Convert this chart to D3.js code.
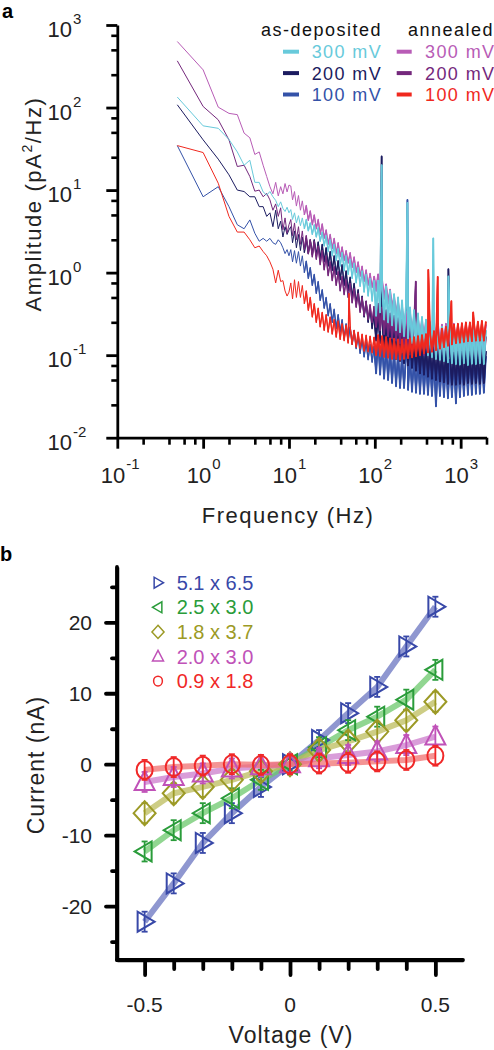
<!DOCTYPE html>
<html><head><meta charset="utf-8">
<script src="https://cdn.jsdelivr.net/npm/d3@7"></script>
<style>
body{margin:0;background:#fff;}
svg{display:block;font-family:"Liberation Sans",Arial,Helvetica,sans-serif;}
</style></head><body>
<svg id="chart" width="494" height="1050"></svg>
<script>
// ---------------- Panel a data ----------------
const freqLow = [0.5,1,1.5,2,2.5,3,3.5,4,4.5,5,5.5,6,6.5,7,7.5,8,8.5,9,9.5,10];
const freqMid = [10.5,11,11.6,12.2,12.9,13.6,14.3,15.1,15.9,16.8,17.7,18.7,19.7,20.8,21.9,23.1,24.4,25.7,27.1,28.6,30.2,31.9,33.6,35.5,37.4,39.5,41.6,43.9,46.3,48.9,51.6,54.4,57.4,60.6,63.9,67.4,71.1,75,79.2,83.5,88.1,93,98.1];
const freqHigh = [103.5,109.2,115.2,121.5,128.2,135.3,142.7,150.6,158.8,167.6,176.8,186.5,196.8,207.6,219,231,243.7,257.1,271.3,286.2,301.9,318.5,336,354.5,374,394.6,416.3,439.2,463.3,488.8,515.7,544.1,574,605.6,638.9,674,711.1,750.2,791.5,835,881,929.4,980.5,1034,1091,1151,1215,1281,1352,1426,1505,1587,1675,1767,1864,1967];

const ampDep300 = [134,60,56,41,29,20,23,12.4,12.4,9.5,8.7,9.6,8.3,7.5,6.3,7.2,6.0,5.5,6.2,5.3,
 5.8,4.4,5.3,4.0,4.9,3.7,4.6,3.4,4.4,3.2,4.0,2.9,3.8,2.7,3.5,2.4,3.1,2.1,2.8,1.8,2.5,1.6,2.2,1.4,1.95,1.2,1.75,1.05,1.6,0.95,1.45,0.85,1.3,0.75,1.15,0.68,1.05,0.58,0.95,0.52,0.85,0.45,0.8,
 0.3,0.8,0.33,0.72,0.27,0.68,0.25,0.6,0.23,0.55,0.2,0.5,0.19,0.46,0.17,0.42,0.16,0.38,0.14,0.35,0.13,0.32,0.12,0.29,0.11,0.27,0.1,0.25,0.095,0.24,0.09,0.23,0.088,0.22,0.085,0.215,0.082,0.21,0.08,0.2,0.078,0.21,0.077,0.2,0.08,0.2,0.076,0.21,0.079,0.2,0.078,0.205,0.08,0.21,0.078,0.2];
const ampDep200 = [108,40.6,23.7,15.3,10,9.6,8.3,8.3,6.3,6.3,4.8,5.3,3.6,5.7,3.4,4.2,2.7,3.6,2.9,3.3,
 3.6,2.3,3.2,2.0,2.9,1.85,2.7,1.75,2.6,1.7,2.5,1.65,2.5,1.6,2.35,1.45,2.2,1.35,2.0,1.2,1.8,1.06,1.6,0.95,1.4,0.82,1.25,0.7,1.05,0.6,0.88,0.5,0.74,0.42,0.62,0.35,0.52,0.29,0.45,0.25,0.37,0.21,0.32,
 0.15,0.34,0.14,0.3,0.12,0.27,0.11,0.24,0.1,0.22,0.09,0.21,0.085,0.2,0.08,0.18,0.075,0.17,0.07,0.15,0.065,0.145,0.06,0.14,0.058,0.135,0.055,0.13,0.052,0.125,0.05,0.12,0.048,0.115,0.047,0.112,0.045,0.11,0.044,0.108,0.044,0.11,0.045,0.11,0.044,0.112,0.046,0.11,0.045,0.113,0.046,0.112,0.045,0.115,0.046,0.112];
const ampDep100 = [34.6,8.3,11,6.3,3.8,3.4,4.35,3.0,2.4,2.6,2.4,2.6,2.3,2.2,2.5,2.3,2.0,1.7,1.9,1.6,
 1.9,1.35,1.85,1.3,1.8,1.2,1.6,1.0,1.38,0.85,1.15,0.7,0.95,0.56,0.78,0.46,0.62,0.37,0.5,0.3,0.42,0.25,0.36,0.21,0.31,0.19,0.27,0.16,0.24,0.15,0.22,0.135,0.2,0.12,0.175,0.105,0.16,0.095,0.145,0.088,0.135,0.082,0.128,
 0.06,0.16,0.058,0.145,0.052,0.13,0.05,0.12,0.046,0.115,0.042,0.11,0.04,0.105,0.04,0.1,0.038,0.098,0.036,0.095,0.035,0.093,0.034,0.092,0.034,0.09,0.033,0.09,0.032,0.088,0.024,0.089,0.032,0.088,0.031,0.087,0.03,0.088,0.031,0.087,0.026,0.088,0.031,0.09,0.032,0.092,0.033,0.093,0.033,0.095,0.034,0.096,0.034,0.097,0.035,0.097];
const ampAnn300 = [631,286,101,85,82,49,43,27,29,20,14.6,11,9,12.4,8.5,11,9,12,9.5,11.5,
 11.2,7.6,9.6,6.4,8.6,5.7,7.4,5.0,6.5,4.3,5.6,3.8,5.0,3.4,4.4,2.9,3.9,2.6,3.3,2.2,2.9,1.95,2.6,1.7,2.3,1.55,2.05,1.4,1.85,1.3,1.75,1.15,1.55,1.0,1.35,0.9,1.2,0.78,1.08,0.7,0.98,0.66,0.9,
 0.6,0.95,0.55,0.82,0.48,0.72,0.42,0.62,0.36,0.52,0.3,0.45,0.26,0.38,0.22,0.34,0.2,0.32,0.19,0.29,0.17,0.28,0.16,0.27,0.15,0.26,0.145,0.25,0.14,0.25,0.135,0.24,0.13,0.235,0.13,0.24,0.125,0.23,0.13,0.24,0.125,0.235,0.13,0.23,0.125,0.24,0.13,0.235,0.125,0.24,0.13,0.23,0.125,0.24,0.13,0.235];
const ampAnn200 = [368,103,71,40.6,19.3,20,14.6,9.7,10,8.3,9.1,7.6,5.7,6.8,4.8,6.1,3.3,4.6,3.0,3.8,
 4.4,2.8,4.0,2.5,3.6,2.2,3.2,1.9,2.8,1.7,2.5,1.55,2.4,1.45,2.1,1.25,1.85,1.08,1.6,0.92,1.35,0.8,1.18,0.7,1.03,0.6,0.9,0.54,0.82,0.5,0.74,0.43,0.64,0.38,0.56,0.33,0.5,0.3,0.45,0.27,0.41,0.25,0.39,
 0.22,0.42,0.2,0.38,0.18,0.35,0.17,0.32,0.16,0.3,0.15,0.28,0.14,0.27,0.13,0.25,0.12,0.23,0.115,0.22,0.11,0.21,0.105,0.2,0.1,0.2,0.1,0.195,0.098,0.19,0.095,0.19,0.095,0.185,0.092,0.185,0.092,0.18,0.09,0.18,0.09,0.175,0.09,0.175,0.088,0.175,0.088,0.17,0.087,0.17,0.087,0.17,0.086,0.17,0.086,0.168];
const ampAnn100 = [34.6,28.5,12.1,4.8,3.1,3.1,2.5,2.0,2.1,1.8,1.6,1.35,1.1,0.75,1.07,0.78,0.8,0.6,0.52,0.58,
 0.75,0.48,0.82,0.5,0.78,0.5,0.7,0.42,0.6,0.35,0.5,0.29,0.42,0.25,0.37,0.22,0.33,0.2,0.31,0.19,0.29,0.18,0.27,0.165,0.26,0.155,0.24,0.15,0.23,0.14,0.22,0.135,0.2,0.125,0.19,0.12,0.18,0.112,0.175,0.11,0.17,0.107,0.165,
 0.1,0.175,0.098,0.17,0.095,0.165,0.093,0.16,0.09,0.158,0.09,0.155,0.088,0.155,0.09,0.155,0.092,0.16,0.094,0.165,0.097,0.17,0.1,0.175,0.105,0.18,0.108,0.19,0.11,0.195,0.115,0.2,0.12,0.21,0.125,0.22,0.13,0.23,0.135,0.235,0.14,0.24,0.142,0.245,0.145,0.25,0.148,0.25,0.148,0.255,0.15,0.255,0.15,0.26,0.15,0.255];

// line-frequency spikes [Hz, pA^2/Hz]
const spikesDep300 = [[120,20],[240,7.0],[480,2.6],[720,0.9]];
const spikesDep200 = [[120,25.5],[720,1.1]];
const spikesDep100 = [[240,7.6]];
const spikesAnn300 = [];
const spikesAnn200 = [[300,0.78]];
const spikesAnn100 = [[50,0.56],[420,1.08],[540,0.89],[780,0.45],[1400,0.33]];

const yTickExp = [-2,-1,0,1,2,3];
const xTickExp = [-1,0,1,2,3];
const legendVolts = ["300 mV","200 mV","100 mV"];

// ---------------- Panel b data ----------------
const voltages = [-0.5,-0.4,-0.3,-0.2,-0.1,0,0.1,0.2,0.3,0.4,0.5];
const cur51x65 = [-22.2,-16.8,-11.1,-6.9,-3.2,0,3.4,7.2,10.9,16.6,22.2];
const cur25x30 = [-12.3,-9.3,-6.9,-4.8,-2.2,0,2.4,4.8,6.7,9.1,13.3];
const cur18x37 = [-6.9,-4.1,-3.2,-2.2,-1.0,0,2.0,3.2,4.6,6.2,8.8];
const cur20x30 = [-2.5,-1.8,-1.3,-0.6,-0.3,0,0.85,1.3,1.8,2.7,3.9];
const cur09x18 = [-0.8,-0.4,-0.2,0,-0.1,0,0.1,0.2,0.4,0.6,1.2];
const sizeLabels = ["5.1 x 6.5","2.5 x 3.0","1.8 x 3.7","2.0 x 3.0","0.9 x 1.8"];
const currentTicks = [-20,-10,0,10,20];
const currentMinor = [-25,-15,-5,5,15,25];
const voltTicks = [-0.5,0,0.5];
const voltMinor = [-0.4,-0.3,-0.2,-0.1,0.1,0.2,0.3,0.4];

// ---------------- Drawing ----------------
const svg = d3.select("#chart");
const freqs = freqLow.concat(freqMid, freqHigh);

// Panel a
const xA = d3.scaleLog().domain([0.1, 2000]).range([117.3, 486.5]);
const yA = d3.scaleLog().domain([0.01, 1000]).range([437.7, 25]);

const seriesA = [
  {amp: ampDep100, spikes: spikesDep100, color: "#3452a8"},
  {amp: ampDep200, spikes: spikesDep200, color: "#1c1c60"},
  {amp: ampAnn200, spikes: spikesAnn200, color: "#74287c"},
  {amp: ampAnn300, spikes: spikesAnn300, color: "#b85cb6"},
  {amp: ampDep300, spikes: spikesDep300, color: "#68cadb"},
  {amp: ampAnn100, spikes: spikesAnn100, color: "#f0281e"}
];
const lineA = d3.line().x(d => xA(d[0])).y(d => yA(d[1]));
const gA = svg.append("g");
seriesA.forEach(s => {
  const pts = freqs.map((f, i) => [f, s.amp[i]]).concat(s.spikes).sort((a, b) => a[0] - b[0]);
  gA.append("path").attr("d", lineA(pts)).attr("fill", "none")
    .attr("stroke", s.color).attr("stroke-width", 1).attr("stroke-linejoin", "round");
  // denser-looking noise band: slightly heavier stroke for the dense part of the spectrum
  gA.append("path").attr("d", lineA(pts.filter(p => p[0] >= 15))).attr("fill", "none")
    .attr("stroke", s.color).attr("stroke-width", 1.3).attr("stroke-linejoin", "round");
  gA.append("path").attr("d", lineA(pts.filter(p => p[0] >= 98))).attr("fill", "none")
    .attr("stroke", s.color).attr("stroke-width", 1.8).attr("stroke-linejoin", "round");
});

// axes panel a
const yMajorA = yTickExp.map(e => Math.pow(10, e));
const yMinorA = [];
yTickExp.slice(0, -1).forEach(e => [2.5, 5, 7.5].forEach(m => yMinorA.push(m * Math.pow(10, e))));
const xMajorA = xTickExp.map(e => Math.pow(10, e));
const xMinorA = [];
xTickExp.forEach(e => [2, 4, 6, 8].forEach(m => { const v = m * Math.pow(10, e); if (v <= 2000) xMinorA.push(v); }));

function styleAxis(g, w) {
  g.selectAll("path.domain").attr("stroke", "#000").attr("stroke-width", w);
  g.selectAll(".tick line").attr("stroke", "#000").attr("stroke-width", w);
  g.selectAll(".tick text").remove();
}
const axYA = svg.append("g").attr("transform", "translate(117.3,0)")
  .call(d3.axisLeft(yA).tickValues(yMajorA).tickSize(11).tickSizeOuter(0).tickFormat(""));
styleAxis(axYA, 2.8);
svg.append("g").attr("transform", "translate(117.3,0)")
  .call(d3.axisLeft(yA).tickValues(yMinorA).tickSize(6).tickSizeOuter(0).tickFormat(""))
  .call(g => { g.select("path.domain").remove(); styleAxis(g, 2.6); });
const axXA = svg.append("g").attr("transform", "translate(0,437.7)")
  .call(d3.axisBottom(xA).tickValues(xMajorA).tickSize(11).tickSizeOuter(0).tickFormat(""));
styleAxis(axXA, 2.8);
svg.append("g").attr("transform", "translate(0,437.7)")
  .call(d3.axisBottom(xA).tickValues(xMinorA).tickSize(7).tickSizeOuter(0).tickFormat(""))
  .call(g => { g.select("path.domain").remove(); styleAxis(g, 2.6); });

// tick labels panel a
yTickExp.forEach(e => {
  const y = yA(Math.pow(10, e));
  svg.append("text").attr("x", 72).attr("y", y + 12).attr("text-anchor", "end")
    .attr("font-size", 22).attr("fill", "#222").text("10");
  svg.append("text").attr("x", 73).attr("y", y - 1).attr("font-size", 15).attr("fill", "#222").text(String(e));
});
xTickExp.forEach(e => {
  const x = xA(Math.pow(10, e));
  svg.append("text").attr("x", x + 8).attr("y", 483).attr("text-anchor", "end")
    .attr("font-size", 22).attr("fill", "#222").text("10");
  svg.append("text").attr("x", x + 9).attr("y", 469).attr("font-size", 15).attr("fill", "#222").text(String(e));
});

// axis titles panel a
const ttlA = svg.append("text").attr("transform", "translate(41,204) rotate(-90)")
  .attr("text-anchor", "middle").attr("font-size", 22).attr("letter-spacing", 1.6).attr("fill", "#222");
ttlA.append("tspan").text("Amplitude (pA");
ttlA.append("tspan").attr("dy", -9).attr("font-size", 14).text("2");
ttlA.append("tspan").attr("dy", 9).text("/Hz)");
svg.append("text").attr("x", 288).attr("y", 523).attr("text-anchor", "middle")
  .attr("font-size", 22).attr("letter-spacing", 1.5).attr("fill", "#222").text("Frequency (Hz)");

// legend panel a
svg.append("text").attr("x", 261).attr("y", 36).attr("font-size", 18).attr("letter-spacing", 1.5).attr("fill", "#111").text("as-deposited");
svg.append("text").attr("x", 408).attr("y", 36).attr("font-size", 18).attr("letter-spacing", 1.5).attr("fill", "#111").text("annealed");
const legDep = [seriesA[4].color, seriesA[1].color, seriesA[0].color];
const legAnn = [seriesA[3].color, seriesA[2].color, seriesA[5].color];
legendVolts.forEach((lab, i) => {
  const yb = 58.3 + i * 21.4;
  svg.append("line").attr("x1", 283).attr("x2", 299).attr("y1", yb - 6.6).attr("y2", yb - 6.6)
    .attr("stroke", legDep[i]).attr("stroke-width", 4);
  svg.append("text").attr("x", 311.7).attr("y", yb).attr("font-size", 18).attr("letter-spacing", 1.4)
    .attr("fill", legDep[i]).text(lab);
  svg.append("line").attr("x1", 396.7).attr("x2", 411.7).attr("y1", yb - 6.6).attr("y2", yb - 6.6)
    .attr("stroke", legAnn[i]).attr("stroke-width", 4);
  svg.append("text").attr("x", 425).attr("y", yb).attr("font-size", 18).attr("letter-spacing", 1.4)
    .attr("fill", legAnn[i]).text(lab);
});

svg.append("text").attr("x", 2).attr("y", 18).attr("font-size", 20).attr("font-weight", "bold").text("a");
svg.append("text").attr("x", 0).attr("y", 561).attr("font-size", 20).attr("font-weight", "bold").text("b");

// Panel b
const xB = d3.scaleLinear().domain([-0.595, 0.595]).range([117, 463]);
const yB = d3.scaleLinear().domain([-27.6, 27.8]).range([960, 567]);

const seriesB = [
  {cur: cur51x65, color: "#3848a8", line: "#6a74c0", shape: "right"},
  {cur: cur25x30, color: "#2a9c3a", line: "#6cc86c", shape: "left"},
  {cur: cur18x37, color: "#9c9a26", line: "#bcbc5c", shape: "diamond"},
  {cur: cur20x30, color: "#c052b8", line: "#cc7ccc", shape: "up"},
  {cur: cur09x18, color: "#f02828", line: "#f07070", shape: "circle"}
];
function shapePath(shape, s) {
  const P = pts => "M" + pts.map(p => (p[0] * s) + "," + (p[1] * s)).join("L") + "Z";
  if (shape === "right") return P([[-7, -10], [-7, 10], [10, 0]]);
  if (shape === "left") return P([[7, -10], [7, 10], [-10, 0]]);
  if (shape === "up") return P([[0, -11], [10, 8], [-10, 8]]);
  if (shape === "diamond") return P([[0, -12], [11, 0], [0, 12], [-11, 0]]);
  return null;
}
function drawMarker(g, shape, color, cx, cy, s, sw) {
  if (shape === "circle") {
    g.append("ellipse").attr("cx", cx).attr("cy", cy).attr("rx", 8 * s).attr("ry", 9 * s)
      .attr("fill", "none").attr("stroke", color).attr("stroke-width", sw);
  } else {
    g.append("path").attr("d", shapePath(shape, s)).attr("transform", `translate(${cx},${cy})`)
      .attr("fill", "none").attr("stroke", color).attr("stroke-width", sw).attr("stroke-linejoin", "miter");
  }
}
const lineB = d3.line().x(d => xB(d[0])).y(d => yB(d[1]));
const gB = svg.append("g");
seriesB.forEach(s => {
  gB.append("path").attr("d", lineB(voltages.map((v, i) => [v, s.cur[i]])))
    .attr("fill", "none").attr("stroke", s.line).attr("stroke-width", 6).attr("stroke-opacity", 0.75);
});
seriesB.forEach(s => {
  voltages.forEach((v, i) => {
    const cx = xB(v), cy = yB(s.cur[i]);
    gB.append("line").attr("x1", cx).attr("x2", cx).attr("y1", cy - 10).attr("y2", cy + 10)
      .attr("stroke", s.color).attr("stroke-width", 1.8);
    [-10, 10].forEach(dy => gB.append("line").attr("x1", cx - 3).attr("x2", cx + 3)
      .attr("y1", cy + dy).attr("y2", cy + dy).attr("stroke", s.color).attr("stroke-width", 1.8));
    drawMarker(gB, s.shape, s.color, cx, cy, 1, 2);
  });
});

// axes panel b
function styleAxisB(g) {
  g.selectAll("path.domain").attr("stroke", "#000").attr("stroke-width", 3.5);
  g.selectAll(".tick line").attr("stroke", "#000").attr("stroke-width", 3.8).attr("stroke-linecap", "round");
  g.selectAll(".tick text").remove();
}
const axYB = svg.append("g").attr("transform", "translate(117,0)")
  .call(d3.axisLeft(yB).tickValues(currentTicks).tickSize(11).tickSizeOuter(0).tickFormat(""));
styleAxisB(axYB);
svg.append("g").attr("transform", "translate(117,0)")
  .call(d3.axisLeft(yB).tickValues(currentMinor).tickSize(5).tickSizeOuter(0).tickFormat(""))
  .call(g => { g.select("path.domain").remove(); styleAxisB(g); });
const axXB = svg.append("g").attr("transform", "translate(0,960)")
  .call(d3.axisBottom(xB).tickValues(voltTicks).tickSize(15).tickSizeOuter(0).tickFormat(""));
styleAxisB(axXB);
svg.append("g").attr("transform", "translate(0,960)")
  .call(d3.axisBottom(xB).tickValues(voltMinor).tickSize(9).tickSizeOuter(0).tickFormat(""))
  .call(g => { g.select("path.domain").remove(); styleAxisB(g); });
svg.append("line").attr("x1", 117).attr("x2", 117).attr("y1", 567).attr("y2", 960)
  .attr("stroke", "#000").attr("stroke-width", 3.8).attr("stroke-linecap", "round");
svg.append("line").attr("x1", 117).attr("x2", 463).attr("y1", 960).attr("y2", 960)
  .attr("stroke", "#000").attr("stroke-width", 3.8).attr("stroke-linecap", "round");

currentTicks.forEach(t => {
  svg.append("text").attr("x", 92).attr("y", yB(t) + 7.5).attr("text-anchor", "end")
    .attr("font-size", 21).attr("fill", "#222").text(String(t));
});
voltTicks.forEach(t => {
  svg.append("text").attr("x", xB(t)).attr("y", 1012).attr("text-anchor", "middle")
    .attr("font-size", 21).attr("fill", "#222").text(String(t));
});
svg.append("text").attr("x", 291).attr("y", 1043).attr("text-anchor", "middle")
  .attr("font-size", 23).attr("letter-spacing", 1).attr("fill", "#222").text("Voltage (V)");
svg.append("text").attr("transform", "translate(44,765) rotate(-90)").attr("text-anchor", "middle")
  .attr("font-size", 23).attr("letter-spacing", 1).attr("fill", "#222").text("Current (nA)");

// legend panel b
seriesB.forEach((s, i) => {
  const cy = 582.7 + i * 24.6;
  drawMarker(svg, s.shape, s.color, 158, cy, 0.55, 1.5);
  svg.append("text").attr("x", 176.7).attr("y", cy + 7).attr("font-size", 20).attr("fill", s.color).text(sizeLabels[i]);
});
</script></body></html>
